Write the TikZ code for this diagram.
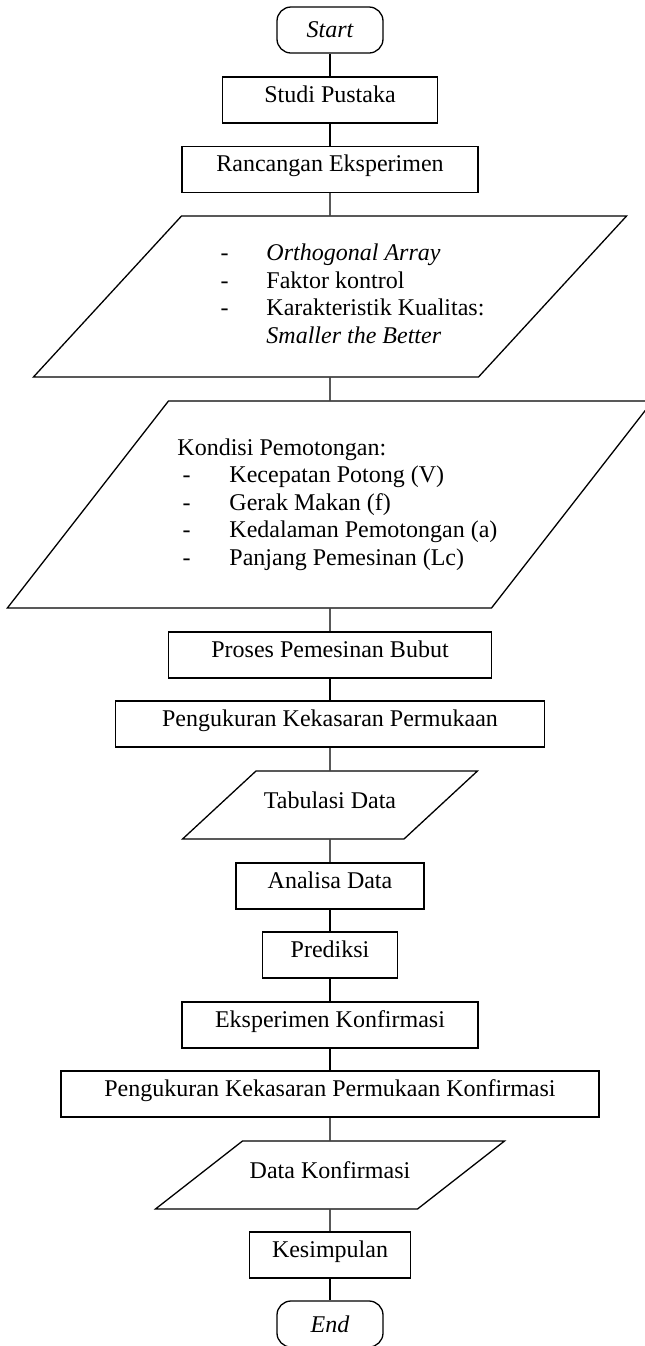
\documentclass[tikz,border=0pt]{standalone}
\usepackage{fontspec}
\setmainfont{Liberation Serif}
\usepackage{tikz}
\usetikzlibrary{shapes.geometric}

\begin{document}
\begin{tikzpicture}[x=0.5pt,y=-0.5pt,line width=0.65pt,
		every node/.style={font=\fontsize{12pt}{13.75pt}\selectfont},
		proc/.style={rectangle,draw,minimum height=23pt,inner sep=0pt,text height=8pt,text depth=6pt},
		term/.style={rectangle,draw,rounded corners=7pt,minimum width=53pt,minimum height=23pt,inner sep=0pt,font=\fontsize{12pt}{13.75pt}\selectfont\itshape},
		io/.style={trapezium,draw,inner sep=0pt,minimum width=0pt,minimum height=0pt},
		data/.style={io,align=flush center,text height=18.5pt,text depth=15.5pt}]
%		\draw[help lines] (0,0) grid[step=50] (644,1346);
		\useasboundingbox (0,0) rectangle (644,1346);
		\path (330,30) node(start) [term] {Start};
		\path (330,100) node(studi) [proc,minimum width=107.5pt] {Studi Pustaka};
		\path (330,169.5) node(rancangan) [proc,minimum width=148pt] {Rancangan Eksperimen};
		\path (330,296.5) node(desain) [io,trapezium left angle=47.4,trapezium right angle=132.6,text height=43.25pt,text depth=37.25pt]
			{\makebox[148.5pt][l]{\hspace{19.5pt}\begin{tabular}{@{}p{23pt}@{}l@{}}
				- & \textit{Orthogonal Array}\\
				- & Faktor kontrol\\
				- & Karakteristik Kualitas:\\
				& \textit{Smaller the Better}
			\end{tabular}}};
		\path (330,504.5) node(kondisi) [io,trapezium left angle=52.1,trapezium right angle=127.9,text height=54.75pt,text depth=48.75pt]
			{\makebox[161.5pt][l]{\hspace{4.5pt}\begin{tabular}{@{}p{26pt}@{}l@{}}
				\multicolumn{2}{@{}l@{}}{Kondisi Pemotongan:}\\
				\hspace*{2.5pt}- & Kecepatan Potong (V)\\
				\hspace*{2.5pt}- & Gerak Makan (f)\\
				\hspace*{2.5pt}- & Kedalaman Pemotongan (a)\\
				\hspace*{2.5pt}- & Panjang Pemesinan (Lc)
			\end{tabular}}};
		\path (330,655) node(proses) [proc,minimum width=161.5pt] {Proses Pemesinan Bubut};
		\path (330,724) node(ukur) [proc,minimum width=214.5pt] {Pengukuran Kekasaran Permukaan};
		\path (330,805) node(tabulasi) [data,trapezium left angle=42.8,trapezium right angle=137.2,text width=74pt] {Tabulasi Data};
		\path (330,886) node(analisa) [proc,minimum width=94pt] {Analisa Data};
		\path (330,955) node(prediksi) [proc,minimum width=67.5pt] {Prediksi};
		\path (330,1025) node(konfirmasi) [proc,minimum width=148pt] {Eksperimen Konfirmasi};
		\path (330,1094) node(ukur2) [proc,minimum width=269pt] {Pengukuran Kekasaran Permukaan Konfirmasi};
		\path (330,1175) node(datak) [data,trapezium left angle=38,trapezium right angle=142,text width=87.5pt] {Data Konfirmasi};
		\path (330,1255) node(simpul) [proc,minimum width=80.5pt] {Kesimpulan};
		\path (330,1324) node(stop) [term] {End};

		\draw (start) -- (studi);
		\draw (studi) -- (rancangan);
		\draw (rancangan) -- (desain);
		\draw (desain) -- (kondisi);
		\draw (kondisi) -- (proses);
		\draw (proses) -- (ukur);
		\draw (ukur) -- (tabulasi);
		\draw (tabulasi) -- (analisa);
		\draw (analisa) -- (prediksi);
		\draw (prediksi) -- (konfirmasi);
		\draw (konfirmasi) -- (ukur2);
		\draw (ukur2) -- (datak);
		\draw (datak) -- (simpul);
		\draw (simpul) -- (stop);
	\end{tikzpicture}
\end{document}
